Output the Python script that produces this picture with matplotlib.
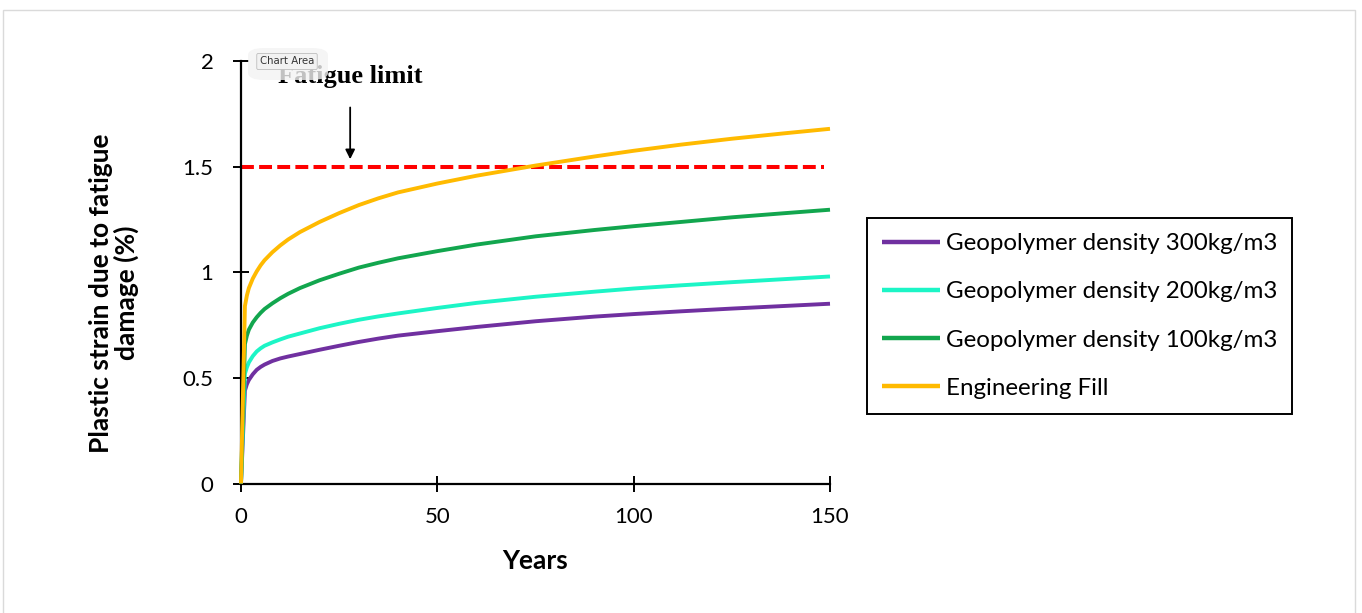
import matplotlib
matplotlib.use("Agg")
import matplotlib.pyplot as plt
from matplotlib.patches import Rectangle, FancyBboxPatch

# Years at which the strain was read
years = [0, 1, 1.5, 2, 3, 4, 5, 6, 8, 10, 12, 15, 20, 25, 30, 35, 40, 50, 60, 75, 90,
         100, 112, 125, 138, 150]

# Plastic strain (%) for each material
geo_300 = [0, 0.44, 0.47, 0.49, 0.517, 0.538, 0.552, 0.563, 0.580, 0.592, 0.601, 0.613,
           0.633, 0.652, 0.670, 0.686, 0.700, 0.721, 0.741, 0.768, 0.790, 0.802, 0.815,
           0.828, 0.840, 0.851]
geo_200 = [0, 0.52, 0.55, 0.573, 0.603, 0.625, 0.640, 0.652, 0.668, 0.682, 0.695, 0.710,
           0.735, 0.756, 0.775, 0.791, 0.805, 0.831, 0.855, 0.884, 0.908, 0.923, 0.938,
           0.953, 0.967, 0.980]
geo_100 = [0, 0.66, 0.70, 0.728, 0.762, 0.787, 0.808, 0.826, 0.853, 0.877, 0.898, 0.925,
           0.962, 0.993, 1.022, 1.045, 1.066, 1.100, 1.131, 1.170, 1.200, 1.218, 1.238,
           1.260, 1.279, 1.296]
eng_fill = [0, 0.84, 0.89, 0.925, 0.970, 1.004, 1.033, 1.057, 1.095, 1.127, 1.155, 1.190,
            1.238, 1.280, 1.318, 1.350, 1.378, 1.420, 1.457, 1.505, 1.548, 1.575, 1.604,
            1.632, 1.657, 1.679]

series_labels = ["Geopolymer density 300kg/m3", "Geopolymer density 200kg/m3",
                 "Geopolymer density 100kg/m3", "Engineering Fill"]
series_colors = ["#7030A0", "#1CF5C6", "#12A64E", "#FFBA00"]

fatigue_limit = 1.5
limit_span = [0, 148.5]
arrow_x = 27.8

x_ticks = [0, 50, 100, 150]
y_ticks = [0, 0.5, 1, 1.5, 2]
y_tick_labels = ["0", "0.5", "1", "1.5", "2"]

W, H = 1362, 613
fig = plt.figure(figsize=(W / 100, H / 100), dpi=100)
fig.patch.set_facecolor("white")

# light frame of the chart area
fig.add_artist(Rectangle((3 / W, -0.01), 1352 / W, 1 - 10 / H + 0.01,
                         transform=fig.transFigure, fill=False,
                         edgecolor="#DADADA", linewidth=1.0))

ax = fig.add_axes([241 / W, 1 - 483.5 / H, 589 / W, 422.5 / H])
ax.set_xlim(0, 150)
ax.set_ylim(0, 2)

for vals, lab, col in zip([geo_300, geo_200, geo_100, eng_fill], series_labels, series_colors):
    ax.plot(years, vals, color=col, linewidth=2.8, label=lab,
            solid_joinstyle="round", solid_capstyle="butt", clip_on=False, zorder=3)

ax.plot(limit_span, [fatigue_limit, fatigue_limit], color="#FF0000", linewidth=2.9,
        dashes=(3.2, 1.3), zorder=2, clip_on=False)

for side in ["top", "right"]:
    ax.spines[side].set_visible(False)
for side in ["left", "bottom"]:
    ax.spines[side].set_linewidth(1.6)
    ax.spines[side].set_color("black")

ax.set_xticks(x_ticks)
ax.set_yticks(y_ticks)
ax.set_yticklabels(y_tick_labels)
ax.tick_params(axis="both", direction="inout", length=11.5, width=1.4, color="black",
               labelsize=16)
ax.tick_params(axis="x", pad=11)
ax.tick_params(axis="y", pad=14)
for t in ax.get_xticklabels() + ax.get_yticklabels():
    t.set_fontfamily("Lato")

fig.text(535.5 / W, 1 - 561 / H, "Years", ha="center", va="center",
         fontsize=19, fontweight="bold", family="Lato")
fig.text(114 / W, 1 - 293 / H, "Plastic strain due to fatigue\ndamage (%)",
         rotation=90, ha="center", va="center", multialignment="center",
         fontsize=19, fontweight="bold", family="Lato", linespacing=1.0)

# fatigue limit annotation
ax.annotate("", xy=(arrow_x, 1.535), xytext=(arrow_x, 1.78),
            arrowprops=dict(arrowstyle="-|>", color="black", lw=1.3,
                            mutation_scale=14, shrinkA=0, shrinkB=0))
ax.text(arrow_x, 1.925, "Fatigue limit", ha="center", va="center",
        fontsize=19, fontweight="bold", family="Liberation Serif", clip_on=False)

# hover tip with its soft halo
fig.add_artist(FancyBboxPatch((248 / W, 1 - 80 / H), 80 / W, 32 / H,
                              boxstyle="round,pad=0,rounding_size=0.012",
                              transform=fig.transFigure, facecolor="#F3F3F3",
                              edgecolor="none", alpha=0.8, zorder=5))
fig.text(287 / W, 1 - 61.5 / H, "Chart Area", ha="center", va="center", fontsize=7.3,
         family="DejaVu Sans", color="#333333", zorder=6,
         bbox=dict(boxstyle="round,pad=0.3,rounding_size=0.15", facecolor="#F2F2F2",
                   edgecolor="#BDBDBD", linewidth=0.6))

leg = ax.legend(loc="center left", bbox_to_anchor=(867 / W, 1 - 316 / H),
                bbox_transform=fig.transFigure, frameon=True, fancybox=False,
                edgecolor="black", framealpha=1, borderpad=0.62,
                handlelength=2.4, handletextpad=0.25, labelspacing=1.12,
                borderaxespad=0, prop={"family": "Lato", "size": 17.4})
leg.get_frame().set_linewidth(1.4)
for line in leg.get_lines():
    line.set_linewidth(3.2)

fig.savefig("out.png", dpi=100, facecolor="white")
